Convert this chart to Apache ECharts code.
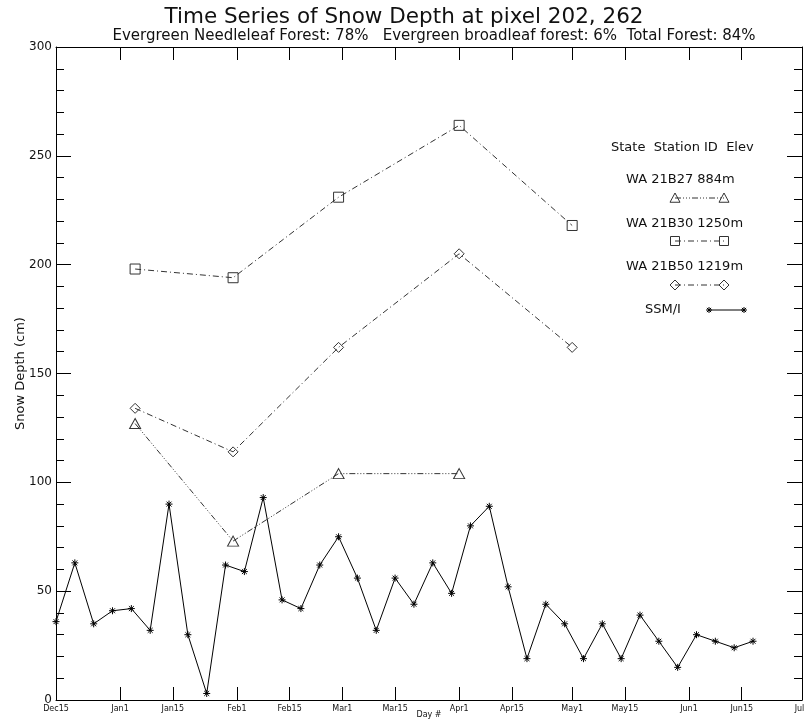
<!DOCTYPE html>
<html>
<head>
<meta charset="utf-8">
<script src="https://cdn.jsdelivr.net/npm/echarts@6/dist/echarts.min.js"></script>
<style>
html,body{margin:0;padding:0;background:#fff;}
#chart{width:805px;height:725px;}
</style>
</head>
<body>
<div id="chart"></div>
<script>
// ---- Data ----
const titleText = 'Time Series of Snow Depth at pixel 202, 262';
const subtitleText = 'Evergreen Needleleaf Forest: 78%   Evergreen broadleaf forest: 6%  Total Forest: 84%';
// x axis: days since Dec 15
const tickDays = [0, 17, 31, 48, 62, 76, 90, 107, 121, 137, 151, 168, 182, 198];
const tickLabels = ['Dec15', 'Jan1', 'Jan15', 'Feb1', 'Feb15', 'Mar1', 'Mar15', 'Apr1', 'Apr15', 'May1', 'May15', 'Jun1', 'Jun15', 'Jul1'];

const ssmiDays = [0, 5, 10, 15, 20, 25, 30, 35, 40, 45, 50, 55, 60, 65, 70, 75, 80, 85, 90, 95,
                  100, 105, 110, 115, 120, 125, 130, 135, 140, 145, 150, 155, 160, 165, 170, 175, 180, 185];
const ssmiDepth = [36, 63, 35, 41, 42, 32, 90, 30, 3, 62, 59, 93, 46, 42, 62, 75, 56, 32, 56, 44,
                   63, 49, 80, 89, 52, 19, 44, 35, 19, 35, 19, 39, 27, 15, 30, 27, 24, 27];

const stationDays = [21, 47, 75, 107, 137];
const b27Depth = [127, 73, 104, 104];        // WA 21B27 884m
const b30Depth = [198, 194, 231, 264, 218];  // WA 21B30 1250m
const b50Depth = [134, 114, 162, 205, 162];  // WA 21B50 1219m

const legendHeader = 'State  Station ID  Elev';
const legendNames = ['WA 21B27 884m', 'WA 21B30 1250m', 'WA 21B50 1219m', 'SSM/I'];

// ---- helpers ----
const FONT = '"DejaVu Sans", sans-serif';
const INK = '#111';
const LINE = '#333';
const dashDot3 = [6, 2, 1, 2, 1, 2, 1, 2];
const dashDot = [6, 3, 1, 3];
const asteriskPath = 'path://M5,0L5,10M0,5L10,5M1.5,1.5L8.5,8.5M1.5,8.5L8.5,1.5';

function pairs(xs, ys) { return ys.map((v, i) => [xs[i], v]); }

function triEl(x, y, r) {
  return { type: 'polygon', shape: { points: [[x, y - r], [x + r, y + r * 0.85], [x - r, y + r * 0.85]] },
           style: { fill: 'rgba(0,0,0,0)', stroke: LINE, lineWidth: 1 }, z: 10 };
}
function sqEl(x, y, r) {
  return { type: 'rect', shape: { x: x - r, y: y - r, width: 2 * r, height: 2 * r },
           style: { fill: 'rgba(0,0,0,0)', stroke: LINE, lineWidth: 1 }, z: 10 };
}
function diaEl(x, y, r) {
  return { type: 'polygon', shape: { points: [[x, y - r], [x + r, y], [x, y + r], [x - r, y]] },
           style: { fill: 'rgba(0,0,0,0)', stroke: LINE, lineWidth: 1 }, z: 10 };
}
function astEls(x, y, r) {
  const d = r * 0.7;
  const segs = [[x, y - r, x, y + r], [x - r, y, x + r, y], [x - d, y - d, x + d, y + d], [x - d, y + d, x + d, y - d]];
  return segs.map(s => ({ type: 'line', shape: { x1: s[0], y1: s[1], x2: s[2], y2: s[3] },
                          style: { stroke: '#000', lineWidth: 1 }, z: 10 }));
}
function lineEl(x1, x2, y, dash, color) {
  return { type: 'line', shape: { x1: x1, y1: y, x2: x2, y2: y },
           style: { stroke: color || LINE, lineWidth: 1, lineDash: dash || null }, z: 9 };
}
function textEl(str, x, y, size, align) {
  return { type: 'text', x: x, y: y, z: 10,
           style: { text: str, font: size + 'px ' + FONT, fill: INK,
                    textAlign: align || 'left', textVerticalAlign: 'middle',
                    align: align || 'left', verticalAlign: 'middle' } };
}

// legend graphics (positions only, not data)
const lx1 = 675, lx2 = 724;
const graphics = [
  textEl(titleText, 404, 17, 21.5, 'center'),
  textEl(subtitleText, 434, 36, 15, 'center'),
  textEl(legendHeader, 611, 148, 13, 'left'),
  textEl(legendNames[0], 626, 180, 13, 'left'),
  lineEl(lx1, lx2, 198, dashDot3), triEl(lx1, 198, 5), triEl(lx2, 198, 5),
  textEl(legendNames[1], 626, 224, 13, 'left'),
  lineEl(lx1, lx2, 241, dashDot), sqEl(lx1, 241, 4.5), sqEl(lx2, 241, 4.5),
  textEl(legendNames[2], 626, 267, 13, 'left'),
  lineEl(lx1, lx2, 285, dashDot), diaEl(lx1, 285, 5), diaEl(lx2, 285, 5),
  textEl(legendNames[3], 645, 310, 13, 'left'),
  lineEl(709, 744, 310, null, '#000')
].concat(astEls(709, 310, 3)).concat(astEls(744, 310, 3));

const chart = echarts.init(document.getElementById('chart'), null, { renderer: 'canvas' });

const xAxisBase = {
  type: 'value', min: 0, max: 198,
  axisLine: { show: true, onZero: false, lineStyle: { color: '#000', width: 1 } },
  axisTick: { show: true, inside: true, length: 13, customValues: tickDays, lineStyle: { color: '#000' } },
  splitLine: { show: false }
};
const yAxisBase = {
  type: 'value', min: 0, max: 300, interval: 50,
  axisLine: { show: true, onZero: false, lineStyle: { color: '#000', width: 1 } },
  axisTick: { show: true, inside: true, length: 15, lineStyle: { color: '#000' } },
  minorTick: { show: true, splitNumber: 5, length: 8, lineStyle: { color: '#000' } },
  splitLine: { show: false },
  minorSplitLine: { show: false }
};

chart.setOption({
  animation: false,
  backgroundColor: '#fff',
  grid: { left: 56, right: 3, top: 47, bottom: 25, containLabel: false, outerBoundsMode: 'none' },
  xAxis: [
    Object.assign({}, xAxisBase, {
      position: 'bottom',
      name: 'Day #', nameLocation: 'middle', nameGap: 11, nameMoveOverlap: false,
      nameTextStyle: { fontFamily: FONT, fontSize: 8, color: INK },
      axisLabel: { show: true, customValues: tickDays, margin: 5, fontFamily: FONT, fontSize: 8, color: INK,
                   showMinLabel: true, showMaxLabel: true,
                   formatter: v => { const i = tickDays.indexOf(v); return i >= 0 ? tickLabels[i] : ''; } }
    }),
    Object.assign({}, xAxisBase, { position: 'top', axisLabel: { show: false } })
  ],
  yAxis: [
    Object.assign({}, yAxisBase, {
      position: 'left',
      name: 'Snow Depth (cm)', nameLocation: 'middle', nameGap: 29, nameMoveOverlap: false,
      nameTextStyle: { fontFamily: FONT, fontSize: 13, color: INK },
      axisLabel: { show: true, margin: 4, fontFamily: FONT, fontSize: 12, color: INK }
    }),
    Object.assign({}, yAxisBase, { position: 'right', axisLabel: { show: false } })
  ],
  graphic: graphics,
  series: [
    {
      name: legendNames[0], type: 'line', xAxisIndex: 0, yAxisIndex: 0,
      data: pairs(stationDays, b27Depth),
      symbol: 'triangle', symbolSize: [11, 10], showAllSymbol: true,
      lineStyle: { color: LINE, width: 1, type: dashDot3 },
      itemStyle: { color: 'rgba(0,0,0,0)', borderColor: LINE, borderWidth: 1 },
      emphasis: { disabled: true }, z: 3
    },
    {
      name: legendNames[1], type: 'line', xAxisIndex: 0, yAxisIndex: 0,
      data: pairs(stationDays, b30Depth),
      symbol: 'rect', symbolSize: 10, showAllSymbol: true,
      lineStyle: { color: LINE, width: 1, type: dashDot },
      itemStyle: { color: 'rgba(0,0,0,0)', borderColor: LINE, borderWidth: 1 },
      emphasis: { disabled: true }, z: 3
    },
    {
      name: legendNames[2], type: 'line', xAxisIndex: 0, yAxisIndex: 0,
      data: pairs(stationDays, b50Depth),
      symbol: 'diamond', symbolSize: 10, showAllSymbol: true,
      lineStyle: { color: LINE, width: 1, type: dashDot },
      itemStyle: { color: 'rgba(0,0,0,0)', borderColor: LINE, borderWidth: 1 },
      emphasis: { disabled: true }, z: 3
    },
    {
      name: legendNames[3], type: 'line', xAxisIndex: 0, yAxisIndex: 0,
      data: pairs(ssmiDays, ssmiDepth),
      symbol: asteriskPath, symbolSize: 7, showAllSymbol: true,
      lineStyle: { color: '#000', width: 1, type: 'solid' },
      itemStyle: { color: '#000', borderColor: '#000', borderWidth: 1 },
      emphasis: { disabled: true }, z: 4
    }
  ]
});
</script>
</body>
</html>
